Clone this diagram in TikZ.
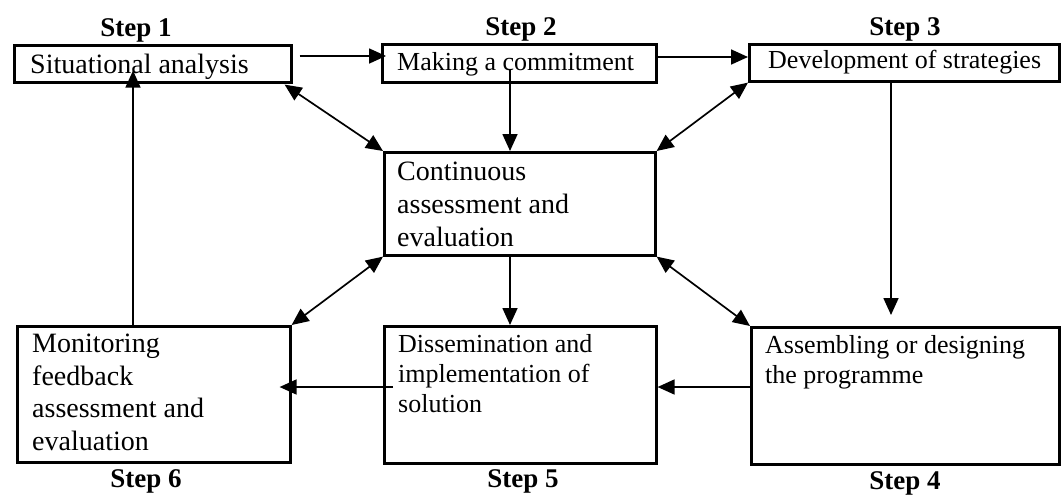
\documentclass[tikz,border=0pt]{standalone}
\usepackage{fontspec}
\setmainfont{Liberation Serif}
\usetikzlibrary{arrows.meta,calc}
\begin{document}
\begin{tikzpicture}[x=1pt,y=-1pt,
  box/.style={draw, line width=2.6pt, rectangle, inner sep=0pt, anchor=north west},
  bigtxt/.style={anchor=base west, inner sep=0pt, align=left, font=\fontsize{28}{33}\selectfont},
  smalltxt/.style={anchor=base west, inner sep=0pt, align=left, font=\fontsize{26}{30}\selectfont},
  steplbl/.style={anchor=base, inner sep=0pt, font=\fontsize{27}{30}\selectfont\bfseries},
  arr/.style={line width=1.7pt, -{Triangle[length=17pt,width=15pt]}},
  darr/.style={line width=1.7pt, {Triangle[length=17pt,width=15pt]}-{Triangle[length=17pt,width=15pt]}},
]
\useasboundingbox[fill=white] (0,0) rectangle (1061,496);

% boxes
\node[box, minimum width=277pt, minimum height=37pt] (b1) at (13,44) {};
\node[box, minimum width=274pt, minimum height=38pt] (b2) at (381,43) {};
\node[box, minimum width=310pt, minimum height=37pt] (b3) at (748,43) {};
\node[box, minimum width=271pt, minimum height=103pt] (c) at (383,151) {};
\node[box, minimum width=273pt, minimum height=136pt] (b6) at (16,325) {};
\node[box, minimum width=272pt, minimum height=137pt] (b5) at (383,325) {};
\node[box, minimum width=308pt, minimum height=137pt] (b4) at (750,326) {};

% texts (base anchor = baseline of the last line)
\node[bigtxt] (t1) at (30,73) {Situational analysis};
\node[smalltxt] (t2) at (397,70) {Making a commitment};
\node[smalltxt] (t3) at (768,68) {Development of strategies};
\node[bigtxt] (tc) at (397,246) {Continuous\\assessment and\\evaluation};
\node[bigtxt, font=\fontsize{28}{32.5}\selectfont] (t6) at (32,450) {Monitoring\\feedback\\assessment and\\evaluation};
\node[smalltxt] (t5) at (398,412) {Dissemination and\\implementation of\\solution};
\node[smalltxt] (t4) at (765,383) {Assembling or designing\\the programme};

% step labels
\node[steplbl] (s1) at (136,36) {Step 1};
\node[steplbl] (s2) at (521,35) {Step 2};
\node[steplbl] (s3) at (905,35) {Step 3};
\node[steplbl] (s6) at (146,487) {Step 6};
\node[steplbl] (s5) at (523,487) {Step 5};
\node[steplbl] (s4) at (905,489) {Step 4};

% helper coordinates
\coordinate (ya) at (0,56);
\coordinate (yb) at (0,57);
\coordinate (yc) at (0,387);
\coordinate (xm) at (510,0);
\coordinate (xr) at (891,0);
\coordinate (xl) at (133,0);

% connectors
\draw[arr, shorten <=7pt, shorten >=-5pt] (b1.east |- ya) -- (b2.west |- ya);
\draw[arr] (b2.east |- yb) -- (b3.west |- yb);
\draw[arr, shorten <=-14pt] (b2.south -| xm) -- (c.north -| xm);
\draw[darr] ($(b1.south east)+(-8,1)$) -- (c.north west);
\draw[darr] (b3.south west) -- (c.north east);
\draw[darr] (c.south west) -- (b6.north east);
\draw[darr] (c.south east) -- (b4.north west);
\draw[arr] (c.south -| xm) -- (b5.north -| xm);
\draw[arr, shorten >=11pt] (b3.south -| xr) -- (b4.north -| xr);
\draw[arr] (b4.west |- yc) -- (b5.east |- yc);
\draw[arr, shorten <=-10pt, shorten >=-12pt] (b5.west |- yc) -- (b6.east |- yc);
\draw[arr, shorten >=-13pt] (b6.north -| xl) -- (b1.south -| xl);
\end{tikzpicture}
\end{document}
